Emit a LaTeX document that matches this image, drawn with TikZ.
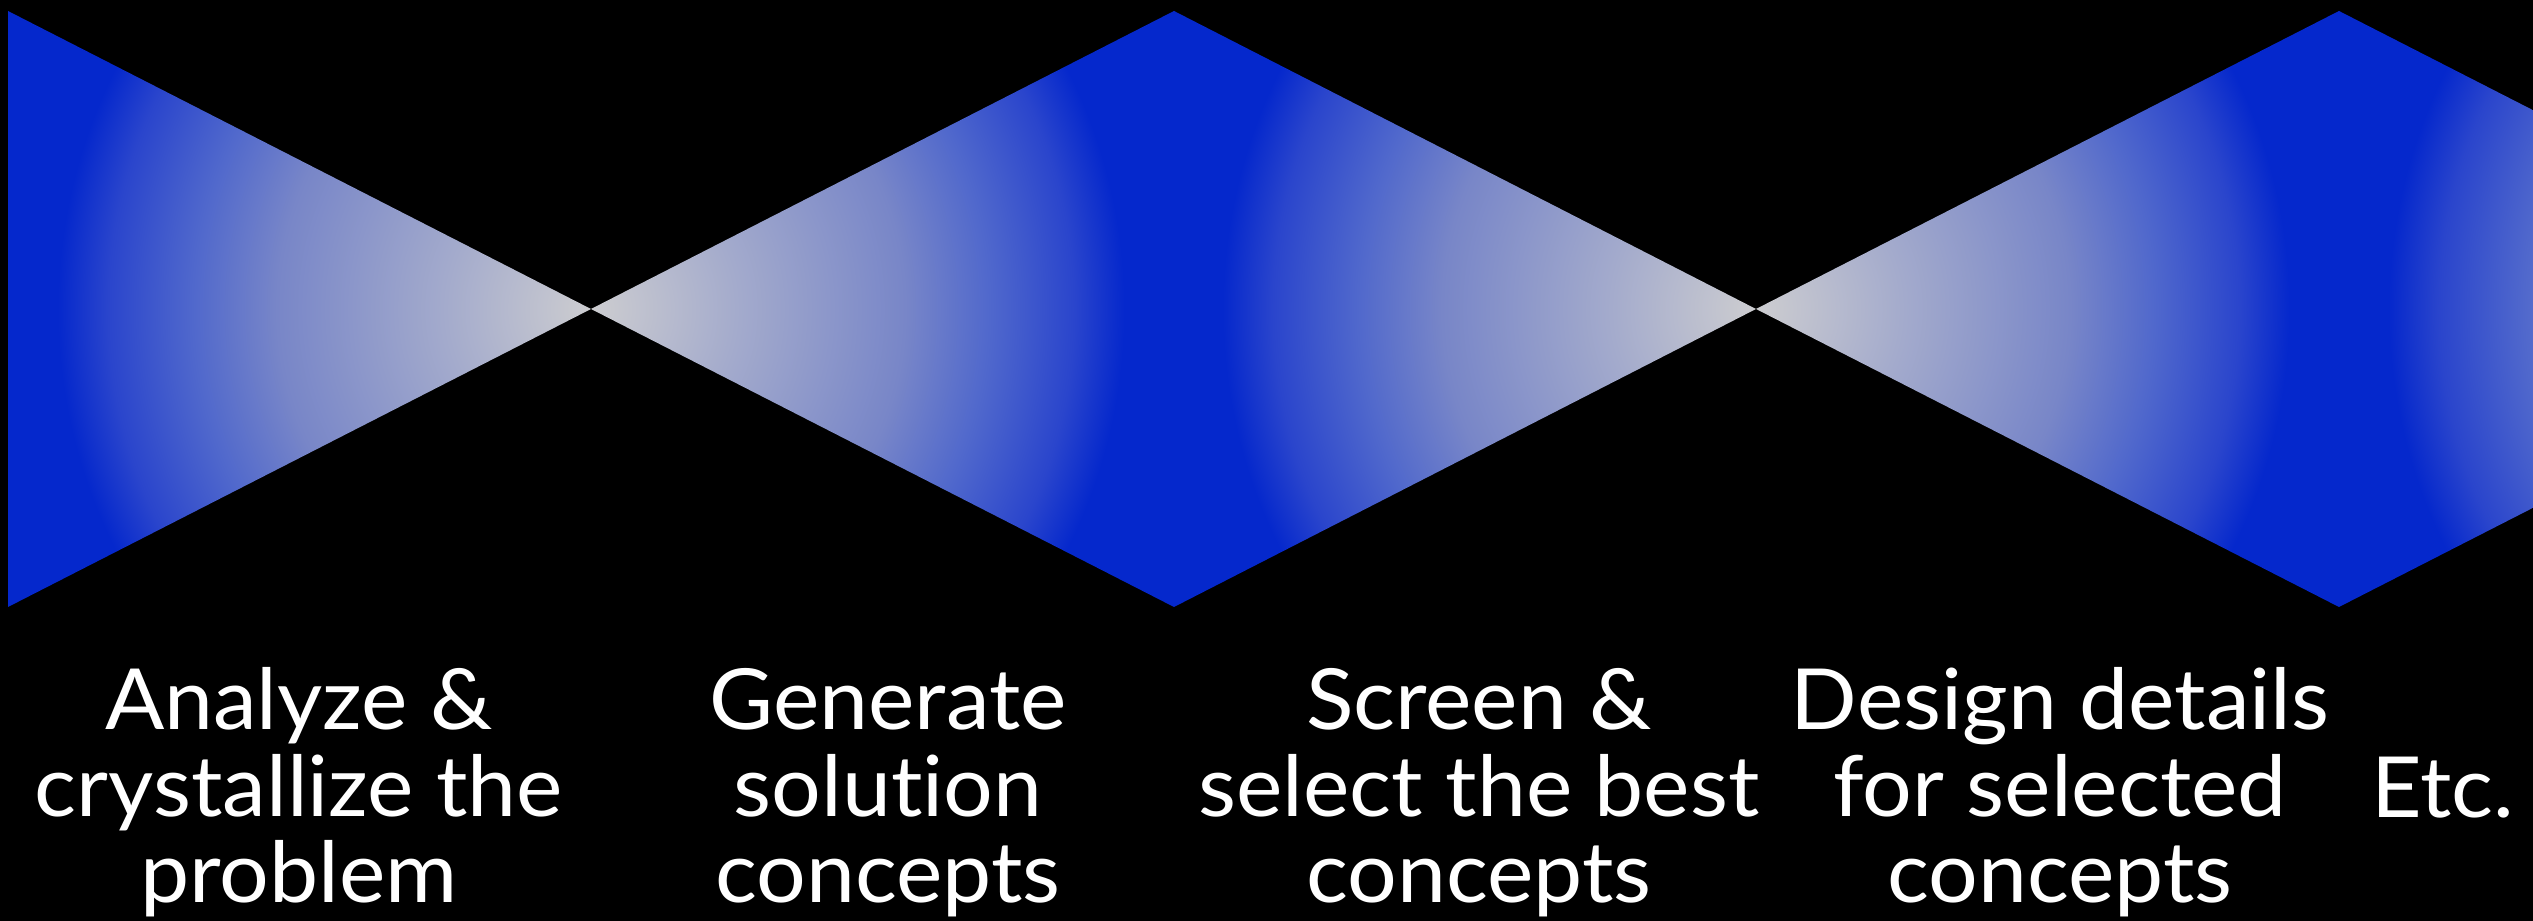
\documentclass[tikz,border=0pt]{standalone}
\usepackage{fontspec}
\setmainfont[Ligatures=NoCommon,FakeStretch=1.04]{Lato}
\usepackage{tikz}
\usetikzlibrary{positioning}
\definecolor{coneblue}{HTML}{0528CC}
\definecolor{conedeep}{HTML}{2A45CC}
\definecolor{coneshade}{HTML}{5068CC}
\definecolor{conemid}{HTML}{7886C8}
\definecolor{conelilac}{HTML}{A4ABCC}
\definecolor{conegrey}{HTML}{CDCDD0}
% 25bp is about the rim of the shaded circle
\pgfdeclareradialshading{conefade}{\pgfpoint{0bp}{0bp}}{color(0bp)=(conegrey);
  color(5.5bp)=(conelilac); color(11.9bp)=(conemid); color(15.1bp)=(coneshade);
  color(18.3bp)=(conedeep); color(20.2bp)=(coneblue); color(25bp)=(coneblue);
  color(50bp)=(coneblue)}
\newcommand*{\Cone}[2]{\begin{scope}
    \clip (#1,9.10) -- (#2,6.12) -- (#1,3.14) -- cycle;
    \shade[shading=conefade] (#2,6.12) circle (6.6);
  \end{scope}}

\begin{document}
\begin{tikzpicture}[stage/.style={text=white, align=center, anchor=base,
    font=\fontsize{24}{24.7}\selectfont}]
    \fill[black] (0,0) rectangle (25.33,9.21);
    \useasboundingbox (0,0) rectangle (25.33,9.21);
    \Cone{0.08}{5.91}
    \Cone{11.74}{5.91}
    \Cone{11.74}{17.56}
    \Cone{23.39}{17.56}
    \Cone{23.39}{29.22}
    \node[stage] (analyze) at (2.99,0.18) {Analyze \&\\crystallize the\\problem};
    \node[stage] (generate) at (8.88,0.18) {Generate\\solution\\concepts};
    \node[stage] (screen) at (14.79,0.18) {Screen \&\\select the best\\concepts};
    \node[stage] (design) at (20.60,0.18) {Design details\\for selected\\concepts};
    \node[stage] (etc) at (24.43,1.03) {Etc.};
  \end{tikzpicture}
\end{document}
